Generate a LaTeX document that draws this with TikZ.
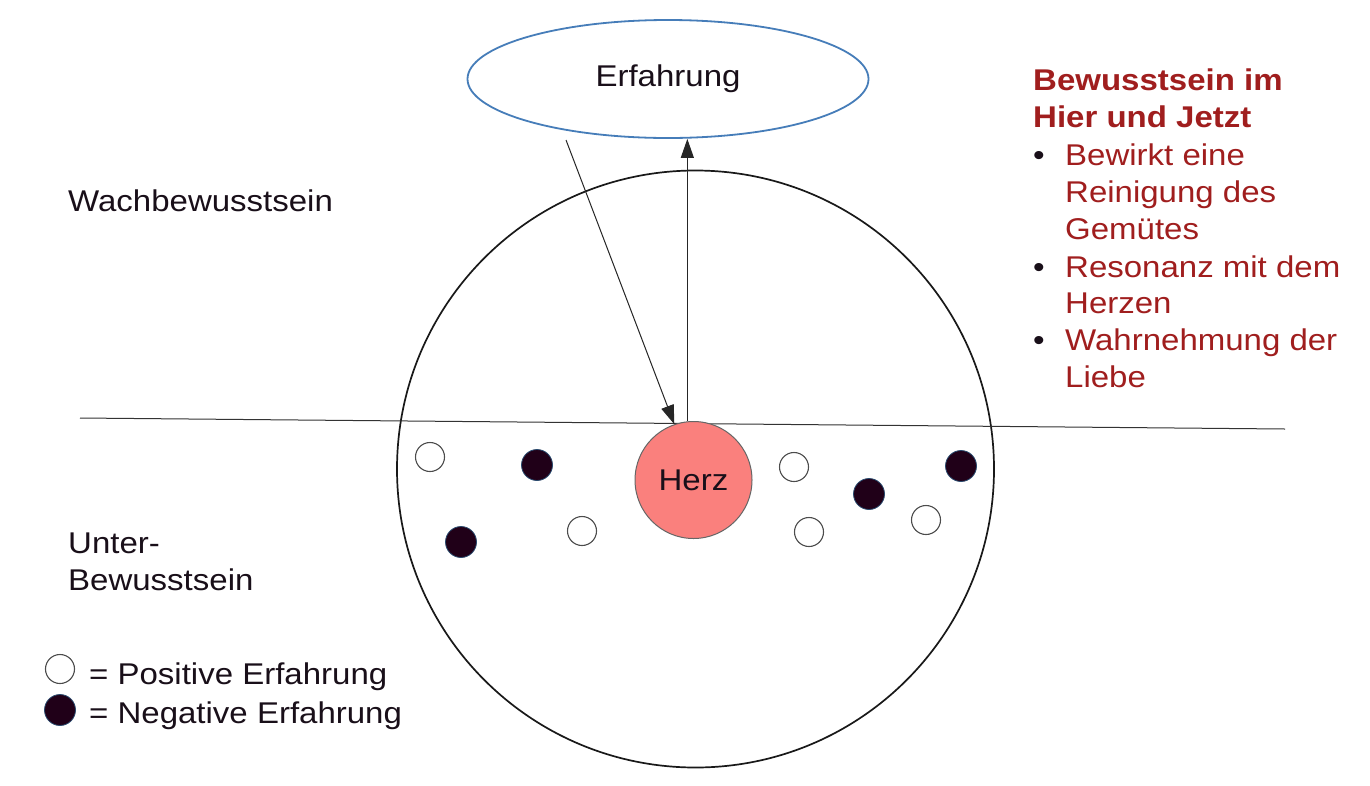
\documentclass[tikz,border=0pt]{standalone}
\usepackage{fontspec}
\setmainfont{Liberation Sans}[FakeStretch=1.1]
\usetikzlibrary{shapes.geometric,arrows.meta}
\definecolor{ellblue}{RGB}{70,125,185}
\definecolor{herzred}{RGB}{250,128,125}
\definecolor{darkdot}{RGB}{32,0,24}
\definecolor{txtred}{RGB}{160,30,30}
\definecolor{txt}{RGB}{25,15,25}
\tikzset{
  lbl/.style={anchor=base west,inner sep=0,text=txt,font=\fontsize{30}{36}\selectfont},
  redlbl/.style={anchor=base west,inner sep=0,text=txtred,font=\fontsize{30}{36}\selectfont},
  redhead/.style={redlbl,font=\fontsize{30}{36}\selectfont\bfseries},
  bul/.style={anchor=base west,inner sep=0,text=txt,font=\fontsize{30}{36}\selectfont},
  posdot/.style={circle,draw=black!70,fill=white,line width=1.1pt,minimum size=29,inner sep=0},
  negdot/.style={circle,draw=ellblue!60!black,fill=darkdot,line width=0.8pt,minimum size=31,inner sep=0},
  arr/.style={draw=black!85,line width=1pt,-{Triangle[length=19,width=13]}}
}
\begin{document}
\begin{tikzpicture}[x=1pt,y=-1pt]
\useasboundingbox[fill=white] (0,0) rectangle (1370,785);
% big circle
\node[circle,draw=black!90,line width=1.7pt,minimum size=597,inner sep=0] (big) at (695.5,469) {};
% horizontal line
\coordinate (hl) at (80,418);
\coordinate (hr) at (1285,429);
\draw[black!80,line width=1pt] (hl) -- (hr);
% ellipse
\node[ellipse,draw=ellblue,line width=1.8pt,minimum width=401,minimum height=118,inner sep=0,font=\fontsize{30}{36}\selectfont,text=txt] (erf) at (668,79) {Erfahrung};
% Herz
\node[circle,draw=black!60,fill=herzred,line width=1pt,minimum size=117,inner sep=0,font=\fontsize{30}{36}\selectfont,text=txt] (herz) at (693.5,480) {Herz};
% arrows
\coordinate (s1) at (566,140);
\draw[arr] (s1) -- (herz.109);
\draw[arr] (herz.96) -- (erf.south -| herz.96);
% dots
\node[posdot] (p1) at (430,457) {};
\node[negdot] (n1) at (537,465) {};
\node[negdot] (n2) at (461,542) {};
\node[posdot] (p2) at (582,531) {};
\node[posdot] (p3) at (794,467) {};
\node[negdot] (n3) at (869,494) {};
\node[posdot] (p4) at (809,532) {};
\node[posdot] (p5) at (926,520) {};
\node[negdot] (n4) at (961,466) {};
% left labels
\node[lbl] (wach) at (68,211) {Wachbewusstsein};
\node[lbl] (unter) at (68,553) {Unter-};
\node[lbl] (bew) at (68,590) {Bewusstsein};
% legend
\node[posdot] (lp) at (60,669) {};
\node[negdot] (ln) at (60,710) {};
\node[lbl] (lpt) at (89,684) {= Positive Erfahrung};
\node[lbl] (lnt) at (89,723) {= Negative Erfahrung};
% red text
\node[redhead] (h1) at (1033,90) {Bewusstsein im};
\node[redhead] (h2) at (1033,127) {Hier und Jetzt};
\node[bul] (b1) at (1033,165) {•};
\node[redlbl] (t1) at (1065,165) {Bewirkt eine};
\node[redlbl] (t2) at (1065,202) {Reinigung des};
\node[redlbl] (t3) at (1065,239) {Gemütes};
\node[bul] (b2) at (1033,277) {•};
\node[redlbl] (t4) at (1065,277) {Resonanz mit dem};
\node[redlbl] (t5) at (1065,313) {Herzen};
\node[bul] (b3) at (1033,350) {•};
\node[redlbl] (t6) at (1065,350) {Wahrnehmung der};
\node[redlbl] (t7) at (1065,387) {Liebe};
\end{tikzpicture}
\end{document}
